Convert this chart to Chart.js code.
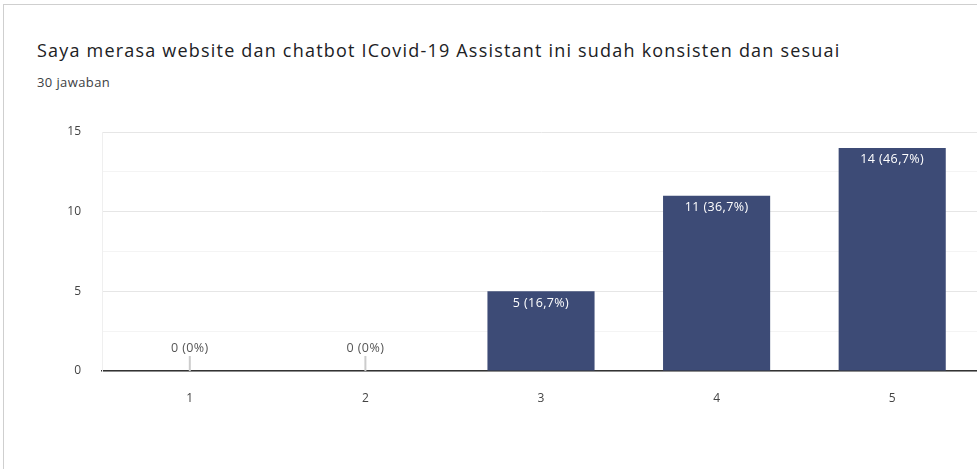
<!DOCTYPE html>
<html>
<head>
<meta charset="utf-8">
<script src="https://cdn.jsdelivr.net/npm/chart.js@4"></script>
<style>
  html, body { margin: 0; padding: 0; background: #fff; overflow: hidden; }
  body { width: 977px; height: 469px; position: relative; }
  .card { position: absolute; left: 3px; top: 4px; width: 1100px; height: 480px; border: 1.5px solid #cfcfcf; box-sizing: border-box; }
  #title { position: absolute; left: 37px; top: 38px; font: 18px "Open Sans", sans-serif; letter-spacing: 1.2px; color: #202124; white-space: nowrap; }
  #sub { position: absolute; left: 37px; top: 73px; font: 13px "Open Sans", sans-serif; letter-spacing: 0.4px; color: #3c4043; white-space: nowrap; }
  #wrap { position: absolute; left: 0; top: 100px; width: 990px; height: 320px; }
</style>
</head>
<body>
<div class="card"></div>
<div id="title">Saya merasa website dan chatbot ICovid-19 Assistant ini sudah konsisten dan sesuai</div>
<div id="sub">30 jawaban</div>
<div id="wrap"><canvas id="chart" width="990" height="320"></canvas></div>
<script>
var categories = ['1', '2', '3', '4', '5'];
var counts = [0, 0, 5, 11, 14];
var total = 30;
var yTicks = [0, 5, 10, 15];

function pctLabel(v) {
    if (v === 0) return '0 (0%)';
    return v + ' (' + (v / total * 100).toFixed(1).replace('.', ',') + '%)';
}

var barLabels = {
    id: 'barLabels',
    afterDatasetsDraw: function (chart) {
        var ctx = chart.ctx;
        var meta = chart.getDatasetMeta(0);
        ctx.save();
        ctx.font = '12.5px "Open Sans", sans-serif';
        ctx.letterSpacing = '0.4px';
        ctx.textAlign = 'center';
        ctx.textBaseline = 'middle';
        meta.data.forEach(function (bar, i) {
            var v = counts[i];
            if (v === 0) {
                ctx.strokeStyle = '#cccccc';
                ctx.lineWidth = 2;
                ctx.beginPath();
                ctx.moveTo(bar.x, bar.base);
                ctx.lineTo(bar.x, bar.base - 15);
                ctx.stroke();
                ctx.fillStyle = '#555555';
                ctx.fillText(pctLabel(v), bar.x, bar.base - 23);
            } else {
                ctx.fillStyle = '#ffffff';
                ctx.fillText(pctLabel(v), bar.x, bar.y + 12);
            }
        });
        ctx.restore();
    }
};

var ctx = document.getElementById('chart').getContext('2d');

var myChart = new Chart(ctx, {
    type: 'bar',
    data: {
        labels: categories,
        datasets: [{
            data: counts,
            backgroundColor: '#3d4b76',
            categoryPercentage: 1,
            barPercentage: 0.61
        }]
    },
    plugins: [barLabels],
    options: {
        responsive: false,
        animation: false,
        layout: { padding: { top: 32, right: 10, left: 0, bottom: 0 } },
        plugins: { legend: { display: false }, tooltip: { enabled: false } },
        scales: {
            x: {
                grid: { display: false },
                border: { color: '#333333', width: 1.5 },
                ticks: { color: '#444444', font: { family: 'Open Sans', size: 12 }, padding: 12 },
                afterFit: function (s) { s.height = 49; }
            },
            y: {
                min: 0,
                max: 15,
                afterBuildTicks: function (s) {
                    s.ticks = [];
                    for (var v = 0; v <= 15; v += 2.5) s.ticks.push({ value: v });
                },
                ticks: {
                    color: '#444444',
                    font: { family: 'Open Sans', size: 12 },
                    padding: 21,
                    callback: function (v) { return yTicks.indexOf(v) >= 0 ? String(v) : ''; }
                },
                grid: {
                    drawTicks: false,
                    color: function (c) { return yTicks.indexOf(c.tick.value) >= 0 ? '#e6e6e6' : '#f4f4f4'; }
                },
                border: { display: true, color: '#efefef' },
                afterFit: function (s) { s.width = 102; }
            }
        }
    }
});
</script>
</body>
</html>
